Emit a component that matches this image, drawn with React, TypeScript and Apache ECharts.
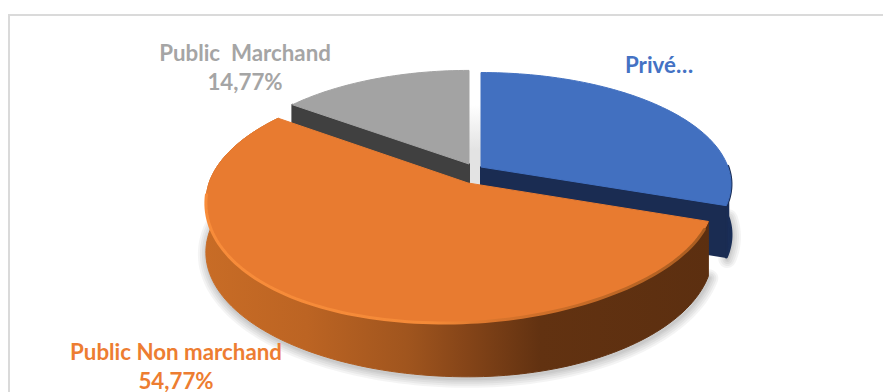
import React, { useEffect, useRef } from "react";
import * as echarts from "echarts";

// Shares in clockwise order, starting from the slice that ends at twelve o'clock.
const sectors = ["Public  Marchand", "Privé", "Public Non marchand"];
const shares = [14.77, 30.46, 54.77];
const shownLabels = [
  ["Public  Marchand", "14,77%"],
  ["Privé…"],
  ["Public Non marchand", "54,77%"],
];

// Projection of each exploded slice: apex, left and right radii, vertical radius,
// and the tilt of the upper face along its front edge.
const PERSPECTIVE = 0.154;
const WALL = 50;
const sliceFrames = [
  { cx: 469, cy: 164, aL: 241, aR: 241, b: 108, tilt: 0 },
  { cx: 481, cy: 167, aL: 247, aR: 247, b: 109, tilt: 0 },
  { cx: 468, cy: 183, aL: 259, aR: 242, b: 118, tilt: 0.042 },
];
const topColors = ["#A3A3A3", "#4270C0", "#E87B30"];
const labelColors = ["#A5A5A5", "#4472C4", "#ED7D31"];
const labelSpots = [
  { x: 245, y: 52, align: "center" },
  { x: 625, y: 64, align: "left" },
  { x: 176, y: 351.5, align: "center" },
];

type Pt = [number, number];

function project(f: (typeof sliceFrames)[number], deg: number, drop = 0): Pt {
  const t = (deg * Math.PI) / 180;
  const s = Math.sin(t);
  const c = Math.cos(t);
  const w = 1 + PERSPECTIVE * c;
  const x = f.cx + ((s < 0 ? f.aL : f.aR) * s) / w;
  const y = f.cy - (f.b * c) / w;
  if (drop > 0) return [x, y + drop / (1 + 0.08 * c)];
  return [x, y - f.tilt * (x - f.cx) * Math.max(0, -c)];
}

function arc(f: (typeof sliceFrames)[number], from: number, to: number, drop = 0): Pt[] {
  const n = Math.max(8, Math.ceil(Math.abs(to - from) / 1.5));
  const out: Pt[] = [];
  for (let i = 0; i <= n; i++) out.push(project(f, from + ((to - from) * i) / n, drop));
  return out;
}

// Soft contact shadow: stacked translucent strokes along the lower edge of a wall.
function softShadow(points: Pt[]) {
  const shifted = points.map(([x, y]) => [x + 1, y + 2]);
  return [18, 14, 10, 6, 3].map((lineWidth) => ({
    type: "polyline",
    shape: { points: shifted },
    style: { fill: "none", stroke: "rgba(0,0,0,0.045)", lineWidth, lineCap: "round", lineJoin: "round" },
  }));
}

const orangeWall = {
  type: "linear", x: 205, y: 0, x2: 712, y2: 0, global: true,
  colorStops: [
    { offset: 0, color: "#C86C26" },
    { offset: 0.2, color: "#BC6423" },
    { offset: 0.4, color: "#A0551E" },
    { offset: 0.52, color: "#844418" },
    { offset: 0.66, color: "#623211" },
    { offset: 1, color: "#5C2F10" },
  ],
};
const orangeRim = {
  type: "linear", x: 205, y: 0, x2: 712, y2: 0, global: true,
  colorStops: [
    { offset: 0, color: "#F88C3A" },
    { offset: 0.45, color: "#F48A38" },
    { offset: 0.58, color: "#D8742C" },
    { offset: 1, color: "#A85C20" },
  ],
};
const gapFloor = {
  type: "linear", x: 0, y: 105, x2: 0, y2: 150, global: true,
  colorStops: [
    { offset: 0, color: "#FFFFFF" },
    { offset: 1, color: "#E3E3E3" },
  ],
};

function renderSlice(params: any, api: any) {
  const i = params.dataIndex;
  const value = api.value(0);
  const before = shares.slice(0, i).reduce((s, v) => s + v, 0);
  const start = (before - shares[0]) * 3.6;
  const end = start + value * 3.6;
  const f = sliceFrames[i];
  const apex: Pt = [f.cx, f.cy];
  const apexLow: Pt = [f.cx, f.cy + WALL];
  const rim = arc(f, start, end);
  const children: any[] = [];

  if (i === 0) {
    // Floor showing through the gap between the two rear slices.
    children.push({
      type: "polygon",
      shape: { points: [[f.cx, 105], [481, 105], [481, 190], [f.cx, 190]] },
      style: { fill: gapFloor },
    });
    // Cut face towards the viewer.
    const tip = project(f, start);
    const tipLow = project(f, start, WALL);
    children.push({
      type: "polygon",
      shape: { points: [tip, apex, apexLow, tipLow] },
      style: { fill: "#404040", stroke: "#404040", lineWidth: 2, lineJoin: "round" },
    });
  }
  if (i === 1) {
    const c = project(f, end);
    const cLow = project(f, end, WALL);
    const low = arc(f, end - 20, end, WALL);
    children.push(...softShadow(low));
    const wall = arc(f, end - 20, end).concat(arc(f, end, end - 20, WALL));
    children.push({
      type: "polygon",
      shape: { points: wall },
      style: { fill: "#1A2E57", stroke: "#1A2E57", lineWidth: 3, lineJoin: "round" },
    });
    children.push({
      type: "polygon",
      shape: { points: [apex, c, cLow, apexLow] },
      style: { fill: "#1A2C52", stroke: "#1A2C52", lineWidth: 2, lineJoin: "round" },
    });
  }
  if (i === 2) {
    children.push(...softShadow(arc(f, start, end - 20, WALL)));
    const wall = arc(f, start, end).concat(arc(f, end, start, WALL));
    children.push({
      type: "polygon",
      shape: { points: wall },
      style: { fill: orangeWall, stroke: orangeWall, lineWidth: 1 },
    });
  }

  children.push({
    type: "polygon",
    shape: { points: [apex, ...rim] },
    style: { fill: topColors[i], stroke: topColors[i], lineWidth: 1, lineJoin: "round" },
  });

  if (i === 2) {
    // Bevel along the front edge of the large slice.
    children.push({
      type: "polyline",
      shape: { points: arc(f, start + 4, end - 42) },
      style: { fill: "none", stroke: orangeRim, lineWidth: 3, lineCap: "round" },
    });
  }

  shownLabels[i].forEach((line, k) => {
    children.push({
      type: "text",
      x: labelSpots[i].x,
      y: labelSpots[i].y + k * 29,
      z2: 10,
      style: {
        text: line,
        fill: labelColors[i],
        font: 'bold 22.3px Lato, "Noto Sans", sans-serif',
        align: labelSpots[i].align,
        verticalAlign: "middle",
      },
    });
  });

  return { type: "group", children };
}

export default function App() {
  const ref = useRef<HTMLDivElement>(null);
  useEffect(() => {
    document.body.style.margin = "0";
    const chart = echarts.init(ref.current!, undefined, { renderer: "svg" });
    chart.setOption({
      animation: false,
      backgroundColor: "#FFFFFF",
      graphic: [
        {
          type: "rect",
          z: -1,
          shape: { x: 9, y: 15, width: 900, height: 400 },
          style: { fill: "none", stroke: "#DADADA", lineWidth: 2 },
        },
      ],
      series: [
        {
          type: "custom",
          coordinateSystem: "none",
          renderItem: renderSlice,
          data: sectors.map((name, k) => ({ name, value: [shares[k]] })),
        },
      ],
    });
    return () => chart.dispose();
  }, []);
  return <div ref={ref} style={{ width: 883, height: 392 }} />;
}
